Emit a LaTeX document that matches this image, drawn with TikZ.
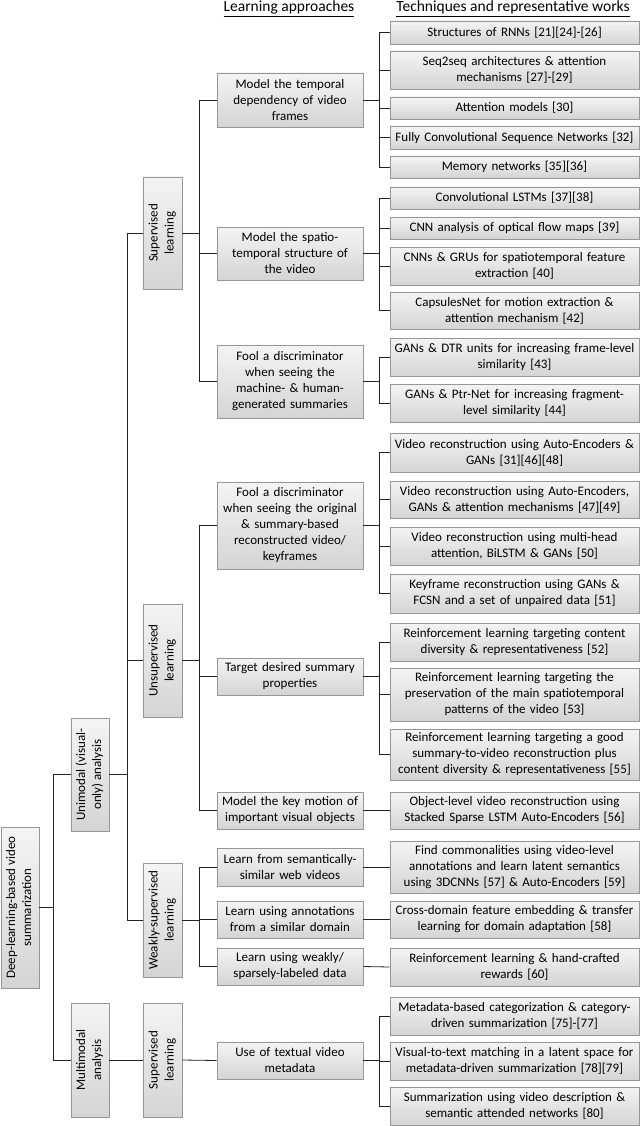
\documentclass[tikz,border=0pt]{standalone}
\usepackage{fontspec}
\setmainfont{Carlito}
\usepackage{graphicx}
\usetikzlibrary{shadows}
\definecolor{boxtop}{RGB}{244,244,244}
\definecolor{boxbot}{RGB}{212,212,212}
\definecolor{boxline}{RGB}{150,150,150}
\definecolor{connline}{RGB}{35,35,35}
\newcommand{\fs}{\fontsize{13}{16}\selectfont}
\newcommand{\vt}[1]{\rotatebox{90}{\begin{tabular}{@{}c@{}}#1\end{tabular}}}
\tikzset{
  box/.style={draw=boxline, line width=0.6pt, top color=boxtop, bottom color=boxbot,
    align=center, font=\fs, inner sep=0pt, text=black,
    general shadow={shadow xshift=1.3pt, shadow yshift=-1.3pt, fill=black!50, opacity=0.7}},
  rbox/.style={box, minimum width=249pt, text width=247pt},
  mbox/.style={box, minimum width=146pt, text width=145pt},
  vbox/.style={box, minimum width=38pt},
  conn/.style={draw=connline, line width=0.8pt},
  hdr/.style={font=\fontsize{15.5}{18}\selectfont, anchor=base, inner sep=0pt}
}
\begin{document}
\begin{tikzpicture}[x=1pt, y=-1pt]
\useasboundingbox (0,0) rectangle (640,1126);
% headers
\node[hdr] (h1) at (289,12) {\underline{Learning approaches}};
\node[hdr] (h2) at (513,12) {\underline{Techniques and representative works}};
% root and level 2
\node[vbox, minimum height=161pt] (root) at (20,907.5) {\vt{Deep-learning-based video\\summarization}};
\node[vbox, minimum height=113pt] (uni) at (90,774.5) {\vt{Unimodal (visual-\\only) analysis}};
\node[vbox, minimum height=114pt] (multi) at (90,1060) {\vt{Multimodal\\analysis}};
% level 3
\node[vbox, minimum height=112pt, minimum width=39pt] (s1) at (162.5,233) {\vt{Supervised\\learning}};
\node[vbox, minimum height=113pt, minimum width=39pt] (un) at (162.5,660.5) {\vt{Unsupervised\\learning}};
\node[vbox, minimum height=114pt, minimum width=39pt] (we) at (162.5,920) {\vt{Weakly-supervised\\learning}};
\node[vbox, minimum height=114pt, minimum width=39pt] (s2) at (162.5,1060) {\vt{Supervised\\learning}};
% middle column
\node[mbox, minimum height=54pt] (m1) at (290,100) {Model the temporal\\dependency of video\\frames};
\node[mbox, minimum height=53pt] (m2) at (290,253.5) {Model the spatio-\\temporal structure of\\the video};
\node[mbox, minimum height=73pt] (m3) at (290,381.5) {Fool a discriminator\\when seeing the\\machine- \& human-\\generated summaries};
\node[mbox, minimum height=87pt] (m4) at (290,525.5) {Fool a discriminator\\when seeing the original\\\& summary-based\\reconstructed video/\\keyframes};
\node[mbox, minimum height=37pt] (m5) at (290,676.5) {Target desired summary\\properties};
\node[mbox, minimum height=37pt] (m6) at (290,810.5) {Model the key motion of\\important visual objects};
\node[mbox, minimum height=38pt] (m7) at (290,867) {Learn from semantically-\\similar web videos};
\node[mbox, minimum height=37pt] (m8) at (290,919.5) {Learn using annotations\\from a similar domain};
\node[mbox, minimum height=37pt] (m9) at (290,966.5) {Learn using weakly/\\sparsely-labeled data};
\node[mbox, minimum height=37pt] (m10) at (290,1060.5) {Use of textual video\\metadata};
% right column
\node[rbox, minimum height=23pt] (r1) at (514.5,32.5) {Structures of RNNs [21][24]-[26]};
\node[rbox, minimum height=38pt] (r2) at (514.5,70) {Seq2seq architectures \& attention\\mechanisms [27]-[29]};
\node[rbox, minimum height=22pt] (r3) at (514.5,108) {Attention models [30]};
\node[rbox, minimum height=23pt] (r4) at (514.5,137.5) {Fully Convolutional Sequence Networks [32]};
\node[rbox, minimum height=22pt] (r5) at (514.5,167) {Memory networks [35][36]};
\node[rbox, minimum height=22pt] (r6) at (514.5,198) {Convolutional LSTMs [37][38]};
\node[rbox, minimum height=22pt] (r7) at (514.5,228) {CNN analysis of optical flow maps [39]};
\node[rbox, minimum height=38pt] (r8) at (514.5,266) {CNNs \& GRUs for spatiotemporal feature\\extraction [40]};
\node[rbox, minimum height=37pt] (r9) at (514.5,310.5) {CapsulesNet for motion extraction \&\\attention mechanism [42]};
\node[rbox, minimum height=38pt] (r10) at (514.5,357) {GANs \& DTR units for increasing frame-level\\similarity [43]};
\node[rbox, minimum height=38pt] (r11) at (514.5,403) {GANs \& Ptr-Net for increasing fragment-\\level similarity [44]};
\node[rbox, minimum height=39pt] (r12) at (514.5,452.5) {Video reconstruction using Auto-Encoders \&\\GANs [31][46][48]};
\node[rbox, minimum height=37pt] (r13) at (514.5,499.5) {Video reconstruction using Auto-Encoders,\\GANs \& attention mechanisms [47][49]};
\node[rbox, minimum height=38pt] (r14) at (514.5,546) {Video reconstruction using multi-head\\attention, BiLSTM \& GANs [50]};
\node[rbox, minimum height=39pt] (r15) at (514.5,593.5) {Keyframe reconstruction using GANs \&\\FCSN and a set of unpaired data [51]};
\node[rbox, minimum height=38pt] (r16) at (514.5,642) {Reinforcement learning targeting content\\diversity \& representativeness [52]};
\node[rbox, minimum height=53pt] (r17) at (514.5,694.5) {Reinforcement learning targeting the\\preservation of the main spatiotemporal\\patterns of the video [53]};
\node[rbox, minimum height=51pt] (r18) at (514.5,754.5) {Reinforcement learning targeting a good\\summary-to-video reconstruction plus\\content diversity \& representativeness [55]};
\node[rbox, minimum height=37pt] (r19) at (514.5,810.5) {Object-level video reconstruction using\\Stacked Sparse LSTM Auto-Encoders [56]};
\node[rbox, minimum height=52pt] (r20) at (514.5,867) {Find commonalities using video-level\\annotations and learn latent semantics\\using 3DCNNs [57] \& Auto-Encoders [59]};
\node[rbox, minimum height=37pt] (r21) at (514.5,919.5) {Cross-domain feature embedding \& transfer\\learning for domain adaptation [58]};
\node[rbox, minimum height=38pt] (r22) at (514.5,967) {Reinforcement learning \& hand-crafted\\rewards [60]};
\node[rbox, minimum height=38pt] (r23) at (514.5,1016) {Metadata-based categorization \& category-\\driven summarization [75]-[77]};
\node[rbox, minimum height=38pt] (r24) at (514.5,1061) {Visual-to-text matching in a latent space for\\metadata-driven summarization [78][79]};
\node[rbox, minimum height=38pt] (r25) at (514.5,1106) {Summarization using video description \&\\semantic attended networks [80]};
% connectors: root -> level 2
\foreach \c in {uni,multi} \draw[conn] (root.east) -- ++(14,0) |- (\c.west);
% unimodal -> level 3
\foreach \c in {s1,un,we} \draw[conn] (uni.east) -- ++(18,0) |- (\c.west);
\draw[conn] (multi.east) -- (s2.west);
% level 3 -> middle
\foreach \c in {m1,m2,m3} \draw[conn] (s1.east) -- ++(17,0) |- (\c.west);
\foreach \c in {m4,m5,m6} \draw[conn] (un.east) -- ++(17,0) |- (\c.west);
\foreach \c in {m7,m8,m9} \draw[conn] (we.east) -- ++(17,0) |- (\c.west);
\draw[conn] (s2.east) -- (m10.west);
% middle -> right
\foreach \c in {r1,r2,r3,r4,r5} \draw[conn] (m1.east) -- ++(16,0) |- (\c.west);
\foreach \c in {r6,r7,r8,r9} \draw[conn] (m2.east) -- ++(16,0) |- (\c.west);
\foreach \c in {r10,r11} \draw[conn] (m3.east) -- ++(16,0) |- (\c.west);
\foreach \c in {r12,r13,r14,r15} \draw[conn] (m4.east) -- ++(16,0) |- (\c.west);
\foreach \c in {r16,r17,r18} \draw[conn] (m5.east) -- ++(16,0) |- (\c.west);
\draw[conn] (m6.east) -- (r19.west);
\draw[conn] (m7.east) -- (r20.west);
\draw[conn] (m8.east) -- (r21.west);
\draw[conn] (m9.east) -- (r22.west);
\foreach \c in {r23,r24,r25} \draw[conn] (m10.east) -- ++(16,0) |- (\c.west);
\end{tikzpicture}
\end{document}
